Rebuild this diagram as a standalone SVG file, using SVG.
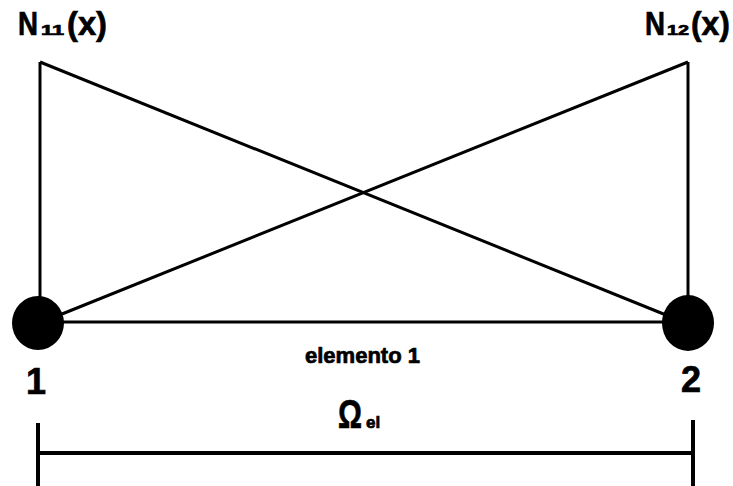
<svg xmlns="http://www.w3.org/2000/svg" width="733" height="486" viewBox="0 0 733 486">
<style>
.ln{stroke:#000;stroke-width:3;fill:none}
.dim{stroke:#000;stroke-width:4;fill:none}
.t{font-family:"Liberation Sans",Arial,sans-serif;font-weight:bold;fill:#000;stroke:#000;stroke-width:0.7}
</style>
<rect width="733" height="486" fill="#fff"/>
<g id="connectors">
<line class="ln" x1="40" y1="62" x2="40" y2="300"/>
<line class="ln" x1="688" y1="62" x2="688" y2="300"/>
<line class="ln" x1="40" y1="62" x2="666" y2="315"/>
<line class="ln" x1="62" y1="314" x2="688" y2="62"/>
<line class="ln" x1="60" y1="322" x2="665" y2="322"/>
</g>
<g id="node1">
<ellipse cx="38" cy="323" rx="26" ry="27" fill="#000"/>
<text class="t" x="26" y="394" font-size="36">1</text>
</g>
<g id="node2">
<ellipse cx="688" cy="323" rx="26" ry="28" fill="#000"/>
<text class="t" x="681" y="392" font-size="36">2</text>
</g>
<g id="label-N11">
<text class="t" y="35" font-size="34"><tspan x="18" textLength="20" lengthAdjust="spacingAndGlyphs">N</tspan><tspan x="41" font-size="14" textLength="23" lengthAdjust="spacingAndGlyphs">11</tspan><tspan x="67" textLength="40" lengthAdjust="spacingAndGlyphs">(x)</tspan></text>
</g>
<g id="label-N12">
<text class="t" y="35" font-size="34"><tspan x="645" textLength="20" lengthAdjust="spacingAndGlyphs">N</tspan><tspan x="667" font-size="14" textLength="22" lengthAdjust="spacingAndGlyphs">12</tspan><tspan x="691" textLength="39" lengthAdjust="spacingAndGlyphs">(x)</tspan></text>
</g>
<g id="label-elemento">
<text class="t" x="305" y="363" font-size="22" textLength="115" lengthAdjust="spacingAndGlyphs">elemento 1</text>
</g>
<g id="dimension">
<line class="dim" x1="38" y1="423" x2="38" y2="486"/>
<line class="dim" x1="693" y1="420" x2="693" y2="486"/>
<line class="dim" x1="38" y1="453" x2="693" y2="453"/>
<text class="t" y="428" font-size="40"><tspan x="338" textLength="24" lengthAdjust="spacingAndGlyphs">Ω</tspan><tspan x="366" font-size="17">el</tspan></text>
</g>
</svg>
